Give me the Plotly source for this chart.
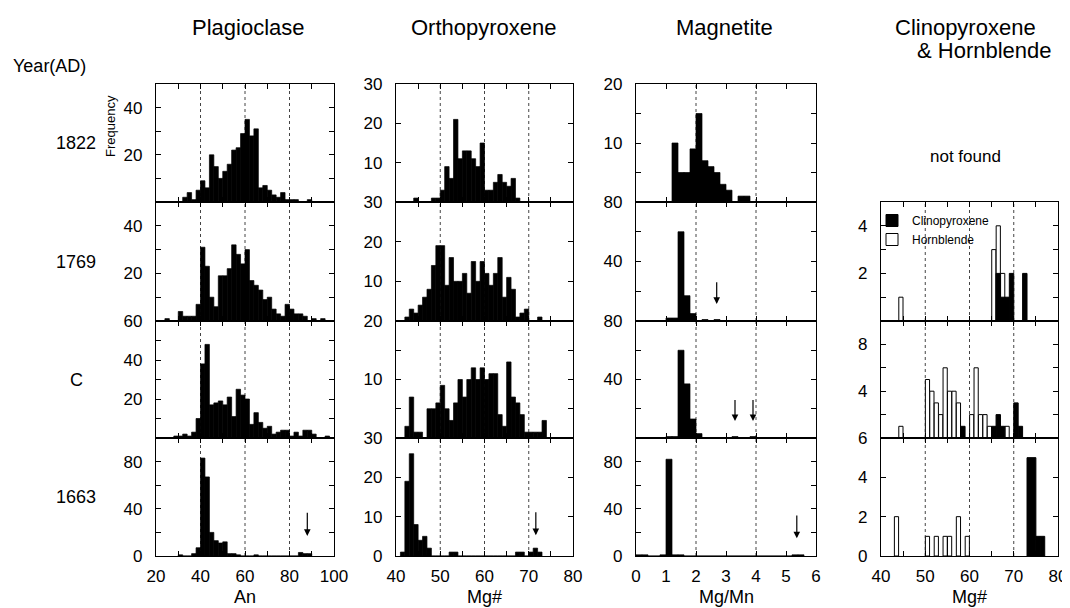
import plotly.graph_objects as go

# The page shows the figure with an 8 px body margin, so the figure is drawn
# 8 px smaller and every screen position is shifted by that offset.
SCREEN_W, SCREEN_H = 1070, 608
OFF = 8
W, H = SCREEN_W - OFF, SCREEN_H - OFF
FONT = "Liberation Sans, Arial, Helvetica, sans-serif"

# ---------------- data ----------------
ROW_NAMES = ["1822", "1769", "C", "1663"]

# Plagioclase (An), bin width 2: left edge of first bin + counts
PLAG_BIN = 2
plag_1822_start = 32
plag_1822 = [2, 4, 1, 5, 9, 6, 20, 15, 10, 13, 16, 22, 23, 29, 35, 28, 31, 6, 7, 5, 3, 2, 4, 1, 1, 1, 0, 0, 1]
plag_1769_start = 24
plag_1769 = [1, 0, 0, 4, 2, 2, 2, 7, 31, 23, 10, 6, 19, 19, 22, 32, 28, 24, 30, 17, 15, 13, 9, 10, 5, 3, 2, 7, 5, 3, 3, 2, 0, 1, 0, 1]
plag_C_start = 28
plag_C = [1, 1, 2, 1, 3, 10, 38, 48, 17, 18, 19, 17, 21, 11, 25, 22, 20, 7, 13, 8, 5, 6, 2, 3, 4, 4, 1, 3, 1, 4, 4, 2, 0, 0, 1]
plag_1663_start = 30
plag_1663 = [1, 0, 0, 2, 7, 83, 67, 20, 13, 11, 12, 2, 2, 1, 0, 0, 0, 1, 0, 0, 0, 0, 0, 0, 0, 0, 0, 3, 2, 2]

# Orthopyroxene (Mg#), bin width 1
OPX_BIN = 1
opx_1822_start = 44
opx_1822 = [1, 0, 0, 0, 1, 1, 3, 9, 6, 21, 11, 13, 13, 11, 9, 15, 3, 3, 5, 7, 5, 4, 6, 1]
opx_1769_start = 42
opx_1769 = [1, 3, 2, 4, 6, 8, 14, 19, 19, 9, 16, 10, 10, 12, 7, 15, 10, 15, 12, 9, 12, 16, 6, 11, 8, 1, 2, 3, 0, 0, 1]
opx_C_start = 42
opx_C = [2, 7, 1, 1, 0, 5, 5, 6, 9, 5, 3, 6, 10, 7, 10, 12, 10, 12, 10, 11, 11, 4, 2, 13, 7, 6, 4, 1, 1, 1, 1, 3]
opx_1663_start = 41
opx_1663 = [1, 19, 26, 8, 4, 5, 2, 0, 0, 0, 0, 1, 1, 0, 0, 0, 0, 0, 0, 0, 0, 0, 0, 0, 0, 0, 1, 1, 0, 1, 2, 1]

# Magnetite (Mg/Mn), bin width 0.2
MAG_BIN = 0.2
mag_1822_start = 1.2
mag_1822 = [10, 5, 5, 9, 15, 7, 6, 5, 3, 2, 0, 1, 1]
mag_1769_start = 1.0
mag_1769 = [2, 2, 60, 17, 5, 0, 1, 0, 1]
mag_C_start = 1.0
mag_C = [1, 1, 60, 37, 13, 3, 0, 0, 0, 0, 0, 1, 0, 0, 1]
mag_1663_start = 0.0
mag_1663 = [1, 1, 0, 0, 1, 82, 1, 1] + [0] * 18 + [1, 1]

# Clinopyroxene & Hornblende (Mg#), bin width 1: bin left edges + counts
CH_BIN = 1
cpx_1769_bins = [66, 67, 68, 69, 72]
cpx_1769 = [2, 1, 1, 2, 2]
hbl_1769_bins = [44, 65, 66, 67]
hbl_1769 = [1, 3, 4, 2]
cpx_C_bins = [58, 65, 66, 67, 70, 71]
cpx_C = [1, 1, 2, 1, 3, 1]
hbl_C_bins = [44, 50, 51, 52, 53, 54, 55, 56, 57, 60, 61, 62, 63, 64, 68]
hbl_C = [1, 5, 4, 3, 2, 6, 4, 4, 3, 2, 6, 2, 2, 1, 1]
cpx_1663_bins = [73, 74, 75, 76]
cpx_1663 = [5, 5, 1, 1]
hbl_1663_bins = [43, 50, 52, 54, 55, 57, 59]
hbl_1663 = [2, 1, 1, 1, 1, 2, 1]

# Arrows marking minor populations: (column, row, x, y_tail, y_head)
ARROWS = [
    (0, 3, 88.0, 38, 17),
    (1, 3, 71.6, 11.5, 5.3),
    (2, 1, 2.69, 27, 11.5),
    (2, 2, 3.3, 27, 11.6),
    (2, 2, 3.9, 27, 11.6),
    (2, 3, 5.36, 35.6, 15),
]

# Column settings
X_TITLES = ["An", "Mg#", "Mg/Mn", "Mg#"]
X_RANGES = [(20, 100), (40, 80), (0, 6), (40, 80)]
X_TICKS = [list(range(20, 101, 10)), list(range(40, 81, 5)), list(range(0, 7)), list(range(40, 81, 5))]
X_LABELED = [list(range(20, 101, 20)), list(range(40, 81, 10)), list(range(0, 7)), list(range(40, 81, 10))]
X_GRID = [[40, 60, 80], [50, 60, 70], [2, 4], [50, 60, 70]]

# y axis per (col,row): range, tick values, tick labels
Y_SPEC = {
    (0, 0): ((0, 50), [10, 20, 30, 40], ["", "20", "", "40"]),
    (0, 1): ((0, 50), [10, 20, 30, 40], ["", "20", "", "40"]),
    (0, 2): ((0, 60), [10, 20, 30, 40, 50, 60], ["", "20", "", "40", "", "60"]),
    (0, 3): ((0, 100), [0, 20, 40, 60, 80], ["0", "", "40", "", "80"]),
    (1, 0): ((0, 30), [10, 20, 30], ["10", "20", "30"]),
    (1, 1): ((0, 30), [10, 20, 30], ["10", "20", "30"]),
    (1, 2): ((0, 20), [5, 10, 15, 20], ["", "10", "", "20"]),
    (1, 3): ((0, 30), [0, 10, 20, 30], ["0", "10", "20", "30"]),
    (2, 0): ((0, 20), [5, 10, 15, 20], ["", "10", "", "20"]),
    (2, 1): ((0, 80), [20, 40, 60, 80], ["", "40", "", "80"]),
    (2, 2): ((0, 80), [20, 40, 60, 80], ["", "40", "", "80"]),
    (2, 3): ((0, 100), [0, 20, 40, 60, 80], ["0", "", "40", "", "80"]),
    (3, 1): ((0, 5), [1, 2, 3, 4], ["", "2", "", "4"]),
    (3, 2): ((0, 10), [2, 4, 6, 8], ["", "4", "", "8"]),
    (3, 3): ((0, 6), [0, 2, 4, 6], ["0", "2", "4", "6"]),
}

# ---------------- layout geometry (screen pixels) ----------------
COL_PX = [(156, 334), (396, 573), (636, 816), (881, 1058)]
ROW_PX = [(84, 202), (202, 321), (321, 438), (438, 556)]


def fx(p):
    return (p - OFF) / W


def fy(p):
    return 1 - (p - OFF) / H


fig = go.Figure()
layout_axes = {}
shapes = []
annotations = []
axis_of = {}
n = 0
for (c, r), (yr, yt, yl) in Y_SPEC.items():
    n += 1
    sfx = "" if n == 1 else str(n)
    axis_of[(c, r)] = sfx
    x0, x1 = COL_PX[c]
    y0, y1 = ROW_PX[r]
    bottom = r == 3
    xt = X_TICKS[c]
    xl = [(str(v) if (bottom and v in X_LABELED[c]) else "") for v in xt]
    layout_axes["xaxis" + sfx] = dict(
        domain=[fx(x0), fx(x1)], anchor="y" + sfx, range=list(X_RANGES[c]),
        tickmode="array", tickvals=xt, ticktext=xl, ticks="inside", ticklen=5,
        tickcolor="black", showline=True, linecolor="black", linewidth=1.4,
        mirror="ticks", showgrid=False, zeroline=False, fixedrange=True, automargin=False,
        tickfont=dict(family=FONT, size=17, color="black"), ticklabelstandoff=4,
    )
    layout_axes["yaxis" + sfx] = dict(
        domain=[fy(y1), fy(y0)], anchor="x" + sfx, range=list(yr),
        tickmode="array", tickvals=yt, ticktext=yl, ticks="inside", ticklen=5,
        tickcolor="black", showline=True, linecolor="black", linewidth=1.4,
        mirror="ticks", showgrid=False, zeroline=False, fixedrange=True, automargin=False,
        tickfont=dict(family=FONT, size=17, color="black"), ticklabelstandoff=9,
    )
    for g in X_GRID[c]:
        shapes.append(dict(type="line", xref="x" + sfx, yref="y" + sfx + " domain",
                           x0=g, x1=g, y0=0, y1=1, layer="below",
                           line=dict(color="#444", width=1, dash="dot")))


def hist_trace(c, r, start, width, counts):
    sfx = axis_of[(c, r)]
    centers = [start + width * (i + 0.5) for i in range(len(counts))]
    return go.Bar(x=centers, y=counts, width=width, xaxis="x" + sfx, yaxis="y" + sfx,
                  marker=dict(color="black", line=dict(color="black", width=0.7)),
                  showlegend=False, hoverinfo="x+y")


hists = [
    (0, 0, plag_1822_start, PLAG_BIN, plag_1822),
    (0, 1, plag_1769_start, PLAG_BIN, plag_1769),
    (0, 2, plag_C_start, PLAG_BIN, plag_C),
    (0, 3, plag_1663_start, PLAG_BIN, plag_1663),
    (1, 0, opx_1822_start, OPX_BIN, opx_1822),
    (1, 1, opx_1769_start, OPX_BIN, opx_1769),
    (1, 2, opx_C_start, OPX_BIN, opx_C),
    (1, 3, opx_1663_start, OPX_BIN, opx_1663),
    (2, 0, mag_1822_start, MAG_BIN, mag_1822),
    (2, 1, mag_1769_start, MAG_BIN, mag_1769),
    (2, 2, mag_C_start, MAG_BIN, mag_C),
    (2, 3, mag_1663_start, MAG_BIN, mag_1663),
]
for h in hists:
    fig.add_trace(hist_trace(*h))

ch = [
    (1, hbl_1769_bins, hbl_1769, cpx_1769_bins, cpx_1769),
    (2, hbl_C_bins, hbl_C, cpx_C_bins, cpx_C),
    (3, hbl_1663_bins, hbl_1663, cpx_1663_bins, cpx_1663),
]
for r, hb, hv, cb, cv in ch:
    sfx = axis_of[(3, r)]
    first = r == 1
    fig.add_trace(go.Bar(
        x=[b + CH_BIN / 2 for b in hb], y=hv, width=CH_BIN * 0.95,
        xaxis="x" + sfx, yaxis="y" + sfx, name="Hornblende", legendgroup="hbl",
        legendrank=2, showlegend=first,
        marker=dict(color="white", line=dict(color="black", width=1))))
    fig.add_trace(go.Bar(
        x=[b + CH_BIN / 2 for b in cb], y=cv, width=CH_BIN,
        xaxis="x" + sfx, yaxis="y" + sfx, name="Clinopyroxene", legendgroup="cpx",
        legendrank=1, showlegend=first,
        marker=dict(color="black", line=dict(color="black", width=1))))

# arrows
for c, r, xv, yt_, yh in ARROWS:
    sfx = axis_of[(c, r)]
    annotations.append(dict(x=xv, y=yh, ax=xv, ay=yt_, xref="x" + sfx, yref="y" + sfx,
                            axref="x" + sfx, ayref="y" + sfx, text="", showarrow=True,
                            arrowhead=2, arrowsize=1.1, arrowwidth=1.2, arrowcolor="black"))


def label(text, x, y, size, **kw):
    d = dict(text=text, x=fx(x), y=fy(y), xref="paper", yref="paper", showarrow=False,
             font=dict(family=FONT, size=size, color="black"), xanchor="center", yanchor="middle")
    d.update(kw)
    annotations.append(d)


label("Plagioclase", 248, 28, 22)
label("Orthopyroxene", 484, 28, 22)
label("Magnetite", 724, 28, 22)
label("Clinopyroxene", 965, 28, 22)
label("& Hornblende", 984, 50, 22)
label("Year(AD)", 49, 66, 18)
for name, (y0, y1) in zip(ROW_NAMES, ROW_PX):
    label(name, 76, (y0 + y1) / 2, 18)
label("Frequency", 110, 126, 13, textangle=-90)
for t, (x0, x1) in zip(X_TITLES, COL_PX):
    label(t, (x0 + x1) / 2, 597, 18)
label("not found", 965, 157, 17)

fig.update_layout(
    width=W, height=H, autosize=False,
    margin=dict(l=0, r=0, t=0, b=0, pad=0, autoexpand=False),
    paper_bgcolor="white", plot_bgcolor="white", barmode="overlay",
    font=dict(family=FONT, color="black"),
    shapes=shapes, annotations=annotations,
    showlegend=True,
    legend=dict(x=fx(872), y=fy(206), xanchor="left", yanchor="top",
                bgcolor="rgba(0,0,0,0)", font=dict(family=FONT, size=12),
                itemwidth=30, tracegroupgap=0, traceorder="normal"),
    **layout_axes,
)

fig.write_html("out.html")
